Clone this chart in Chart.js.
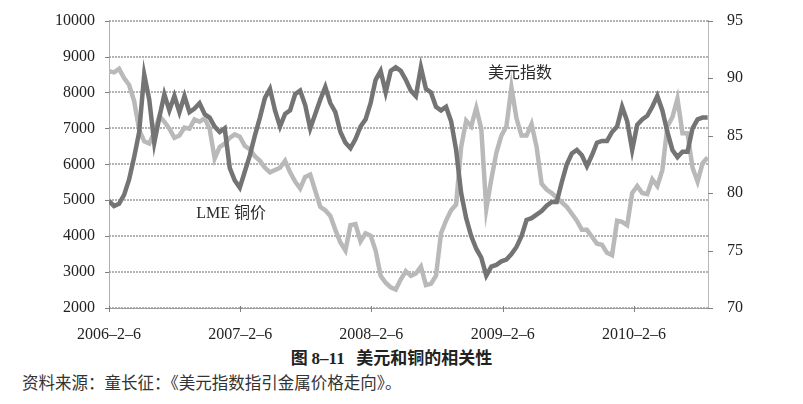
<!DOCTYPE html>
<html>
<head>
<meta charset="utf-8">
<script src="https://cdn.jsdelivr.net/npm/chart.js@4.4.1/dist/chart.umd.min.js"></script>
<style>
  html, body { margin: 0; padding: 0; background: #ffffff; }
  #wrap { position: relative; width: 803px; height: 404px; overflow: hidden; }
  #box { position: absolute; left: 0; top: 0; width: 803px; height: 340px; }
  #caption { position: absolute; left: 0; width: 783px; top: 344px; text-align: center;
    font-family: "Noto Sans CJK SC", sans-serif; font-size: 17px; font-weight: bold; color: #222; }
  #caption .num { font-family: "Liberation Serif", serif; font-weight: bold; }
  #source { position: absolute; left: 22px; top: 370px;
    font-family: "Noto Sans CJK SC", sans-serif; font-size: 16.5px; color: #333; }
</style>
</head>
<body>
<div id="wrap">
  <div id="box"><canvas id="c"></canvas></div>
  <div id="caption">图 <span class="num">8–11</span>&nbsp;&nbsp;&nbsp;美元和铜的相关性</div>
  <div id="source">资料来源：童长征：《美元指数指引金属价格走向》。</div>
</div>
<script>
// ---- data (sampled every 14 days from 2006-02-06) ----
const stepDays = 14;
const tickDays = [0, 365, 730, 1096, 1461];
const tickLabels = ['2006–2–6', '2007–2–6', '2008–2–6', '2009–2–6', '2010–2–6'];
const copperLabel = 'LME 铜价';
const usdLabel = '美元指数';

const copper = [
  4980, 4840, 4900, 5150, 5580, 6200, 6900, 8500, 7800, 6600,
  7300, 7950, 7500, 7900, 7450, 7900, 7450, 7550, 7700, 7400,
  7300, 7050, 6900, 7000, 5900, 5550, 5350, 5800, 6250, 6800,
  7300, 7850, 8100, 7500, 7050, 7400, 7500, 7950, 8050, 7650,
  7000, 7400, 7800, 8150, 7700, 7450, 6900, 6600, 6450, 6700,
  7050, 7250, 7700, 8350, 8600, 8000, 8600, 8700, 8600, 8350,
  8050, 7900, 8700, 8100, 8000, 7600, 7500, 7600, 7200, 6400,
  5200, 4500, 4000, 3650, 3400, 2900, 3150, 3200, 3300, 3350,
  3500, 3700, 4000, 4450, 4500, 4600, 4700, 4850, 4950, 4950,
  5500, 6000, 6300, 6400, 6250, 5950, 6250, 6600, 6650, 6650,
  6900, 7050, 7600, 7200, 6400, 7100, 7250, 7350, 7600, 7900,
  7500, 6900, 6400, 6200, 6350, 6350, 7000, 7250, 7300, 7300
];

const usdIndex = [
  90.6, 90.5, 90.8, 90.0, 89.4, 88.0, 85.5, 84.5, 84.3, 85.3,
  86.7, 86.2, 85.6, 84.8, 85.0, 85.7, 85.6, 86.4, 86.2, 86.5,
  85.6, 83.0, 84.0, 84.3, 84.8, 85.1, 84.9, 84.1, 83.8, 83.2,
  82.8, 82.2, 81.8, 82.0, 82.2, 82.8, 81.8, 81.0, 80.4, 81.4,
  81.6, 80.2, 78.8, 78.5, 78.0, 76.8, 75.7, 75.0, 77.2, 77.3,
  75.8, 76.5, 76.3, 75.0, 72.8, 72.2, 71.8, 71.6, 72.5, 73.2,
  72.8, 73.0, 73.6, 72.0, 72.1, 72.8, 76.5, 77.6, 78.5, 79.0,
  84.0, 86.3, 85.8, 87.4, 85.6, 78.6, 81.2, 83.5, 85.0, 85.8,
  89.2, 86.5, 85.0, 85.0, 86.0, 84.0, 80.8, 80.3, 80.0, 79.6,
  79.2, 78.8, 78.2, 77.6, 76.8, 76.8, 76.2, 75.6, 75.5, 74.8,
  74.6, 77.6, 77.5, 77.2, 80.0, 80.6, 80.0, 79.9, 81.2, 80.6,
  82.0, 85.8, 86.6, 88.2, 85.2, 85.2, 82.2, 81.0, 82.6, 83.1
];

const toPoints = arr => arr.map((v, i) => ({ x: i * stepDays, y: v }));

// gridlines and tick marks, positioned through the chart's own scales
const gridPlugin = {
  id: 'gridMarks',
  beforeDatasetsDraw(chart) {
    const ctx = chart.ctx, a = chart.chartArea;
    const xs = chart.scales.x, yl = chart.scales.yL, yr = chart.scales.yR;
    ctx.save();
    ctx.lineWidth = 1.3;
    ctx.strokeStyle = '#9a9a9a';
    ctx.setLineDash([2, 1]);
    yl.ticks.forEach(t => {
      const y = Math.round(yl.getPixelForValue(t.value));
      ctx.beginPath(); ctx.moveTo(a.left, y); ctx.lineTo(a.right, y); ctx.stroke();
    });
    ctx.setLineDash([]);
    ctx.lineWidth = 1;
    ctx.strokeStyle = '#808080';
    yl.ticks.forEach(t => {
      const y = Math.round(yl.getPixelForValue(t.value)) + 0.5;
      ctx.beginPath(); ctx.moveTo(a.left - 4, y); ctx.lineTo(a.left, y); ctx.stroke();
    });
    yr.ticks.forEach(t => {
      const y = Math.round(yr.getPixelForValue(t.value)) + 0.5;
      ctx.beginPath(); ctx.moveTo(a.right, y); ctx.lineTo(a.right + 5, y); ctx.stroke();
    });
    xs.ticks.forEach(t => {
      const x = Math.round(xs.getPixelForValue(t.value)) + 0.5;
      ctx.beginPath(); ctx.moveTo(x, a.bottom - 2); ctx.lineTo(x, a.bottom + 4); ctx.stroke();
    });
    ctx.restore();
  }
};

const labelPlugin = {
  id: 'seriesLabels',
  afterDatasetsDraw(chart) {
    const ctx = chart.ctx;
    const xs = chart.scales.x, yl = chart.scales.yL;
    ctx.save();
    ctx.fillStyle = '#2a2a2a';
    ctx.textAlign = 'center';
    ctx.textBaseline = 'middle';
    ctx.font = '16px "Noto Sans CJK SC", sans-serif';
    ctx.fillText(usdLabel, xs.getPixelForValue(1144), yl.getPixelForValue(8566));
    ctx.font = '16px "Liberation Serif", "Noto Sans CJK SC", serif';
    ctx.fillText(copperLabel, xs.getPixelForValue(340), yl.getPixelForValue(4620));
    ctx.restore();
  }
};

const tickFont = { family: '"Liberation Serif", serif', size: 16 };

new Chart(document.getElementById('c'), {
  type: 'line',
  data: {
    datasets: [
      { label: copperLabel, data: toPoints(copper), yAxisID: 'yL',
        borderColor: '#747474', borderWidth: 4.5, pointRadius: 0, tension: 0, fill: false },
      { label: usdLabel, data: toPoints(usdIndex), yAxisID: 'yR',
        borderColor: '#b9b9b9', borderWidth: 4.5, pointRadius: 0, tension: 0, fill: false }
    ]
  },
  options: {
    responsive: true,
    maintainAspectRatio: false,
    animation: false,
    layout: { padding: { top: 18, left: 0, right: 0, bottom: 0 } },
    plugins: { legend: { display: false }, tooltip: { enabled: false } },
    scales: {
      x: {
        type: 'linear', min: 0, max: 1667,
        afterBuildTicks: s => { s.ticks = tickDays.map(v => ({ value: v })); },
        afterFit: s => { s.height = 32; },
        ticks: { callback: (v, i) => tickLabels[i], font: tickFont, color: '#222',
                 padding: 9, maxRotation: 0, autoSkip: false },
        grid: { display: false },
        border: { display: true, color: '#a0a0a0', width: 1 }
      },
      yL: {
        type: 'linear', position: 'left', min: 2000, max: 10000,
        afterFit: s => { s.width = 109; },
        ticks: { stepSize: 1000, font: tickFont, color: '#222', padding: 6,
                 callback: v => String(v) },
        grid: { display: false },
        border: { display: true, color: '#b0b0b0', width: 1 }
      },
      yR: {
        type: 'linear', position: 'right', min: 70, max: 95,
        afterFit: s => { s.width = 95; },
        ticks: { stepSize: 5, font: tickFont, color: '#222', padding: 11 },
        grid: { display: false },
        border: { display: true, color: '#b8b8b8', width: 1 }
      }
    }
  },
  plugins: [gridPlugin, labelPlugin]
});
</script>
</body>
</html>
